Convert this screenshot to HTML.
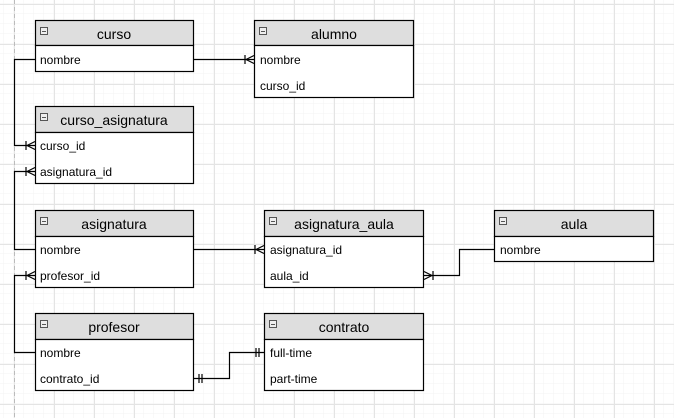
<!DOCTYPE html>
<html><head><style>
html,body{margin:0;padding:0;background:#fff;}
svg{display:block;}
text{font-family:"Liberation Sans",sans-serif;fill:#000;}
.h{font-size:14px;}
.r{font-size:12px;}
</style></head><body>
<svg width="674" height="418" viewBox="0 0 674 418" xmlns="http://www.w3.org/2000/svg">
<defs>
<pattern id="g1" width="10" height="10" patternUnits="userSpaceOnUse" x="4" y="4">
<path d="M10 0V10M0 10H10" stroke="#f3f3f3" stroke-width="1" fill="none"/>
</pattern>
<pattern id="g2" width="40" height="40" patternUnits="userSpaceOnUse" x="14" y="4">
<path d="M0.5 0V40M0 0.5H40" stroke="#e4e4e4" stroke-width="1" fill="none"/>
</pattern>
</defs>
<rect width="674" height="418" fill="url(#g1)"/>
<rect width="674" height="418" fill="url(#g2)"/>
<line x1="14.5" y1="0" x2="14.5" y2="418" stroke="#bbb" stroke-dasharray="4,3"/>

<g stroke="#000" stroke-width="1.2" fill="none">
<!-- curso -> alumno -->
<path d="M194 59.5H254"/><path d="M245 55v9M246 59.5L254 55.5M246 59.5L254 63.5"/>
<!-- curso -> curso_id -->
<path d="M35 59.5H14.5V145.5H35"/><path d="M26 141v9M27 145.5L35 141.5M27 145.5L35 149.5"/>
<!-- asignatura nombre -> asignatura_id -->
<path d="M35 249.5H14.5V171.5H35"/><path d="M26 167v9M27 171.5L35 167.5M27 171.5L35 175.5"/>
<!-- asignatura -> asignatura_aula -->
<path d="M194 249.5H264"/><path d="M255 245v9M256 249.5L264 245.5M256 249.5L264 253.5"/>
<!-- aula -> aula_id -->
<path d="M494 249.5H459.5V275.5H424"/><path d="M433 271v9M432 275.5L424 271.5M432 275.5L424 279.5"/>
<!-- profesor -> profesor_id -->
<path d="M35 352.5H14.5V275.5H35"/><path d="M26 271v9M27 275.5L35 271.5M27 275.5L35 279.5"/>
<!-- contrato -->
<path d="M194 378.5H229.5V352.5H264"/><path d="M199 374v9M202 374v9M256 348v9M259 348v9"/>
</g>

<g stroke="#000" stroke-width="1.2">
<!-- curso -->
<rect x="35.5" y="20.5" width="158" height="25" fill="#dedede"/>
<rect x="35.5" y="45.5" width="158" height="26" fill="#fff"/>
<!-- alumno -->
<rect x="254.5" y="20.5" width="159" height="25" fill="#dedede"/>
<rect x="254.5" y="45.5" width="159" height="52" fill="#fff"/>
<!-- curso_asignatura -->
<rect x="35.5" y="106.5" width="158" height="26" fill="#dedede"/>
<rect x="35.5" y="132.5" width="158" height="51" fill="#fff"/>
<!-- asignatura -->
<rect x="35.5" y="210.5" width="158" height="26" fill="#dedede"/>
<rect x="35.5" y="236.5" width="158" height="51" fill="#fff"/>
<!-- asignatura_aula -->
<rect x="264.5" y="210.5" width="159" height="26" fill="#dedede"/>
<rect x="264.5" y="236.5" width="159" height="51" fill="#fff"/>
<!-- aula -->
<rect x="494.5" y="210.5" width="159" height="26" fill="#dedede"/>
<rect x="494.5" y="236.5" width="159" height="25" fill="#fff"/>
<!-- profesor -->
<rect x="35.5" y="313.5" width="158" height="26" fill="#dedede"/>
<rect x="35.5" y="339.5" width="158" height="51" fill="#fff"/>
<!-- contrato -->
<rect x="264.5" y="313.5" width="159" height="26" fill="#dedede"/>
<rect x="264.5" y="339.5" width="159" height="51" fill="#fff"/>
</g>

<g stroke="#555" stroke-width="1" fill="#eee">
<rect x="40.5" y="27.5" width="7" height="7"/><rect x="259.5" y="27.5" width="7" height="7"/>
<rect x="40.5" y="113.5" width="7" height="7"/><rect x="40.5" y="217.5" width="7" height="7"/>
<rect x="269.5" y="217.5" width="7" height="7"/><rect x="499.5" y="217.5" width="7" height="7"/>
<rect x="40.5" y="320.5" width="7" height="7"/><rect x="269.5" y="320.5" width="7" height="7"/>
</g>
<g stroke="#555" stroke-width="1">
<path d="M42 31.5h4M261 31.5h4M42 117.5h4M42 221.5h4M271 221.5h4M501 221.5h4M42 324.5h4M271 324.5h4"/>
</g>

<g class="h" text-anchor="middle">
<text x="114" y="39">curso</text>
<text x="334" y="39">alumno</text>
<text x="114" y="125">curso_asignatura</text>
<text x="114" y="229">asignatura</text>
<text x="344" y="229">asignatura_aula</text>
<text x="574" y="229">aula</text>
<text x="114" y="332">profesor</text>
<text x="344" y="332">contrato</text>
</g>
<g class="r">
<text x="40" y="64">nombre</text>
<text x="260" y="64">nombre</text>
<text x="260" y="90">curso_id</text>
<text x="40" y="150">curso_id</text>
<text x="40" y="176">asignatura_id</text>
<text x="40" y="254">nombre</text>
<text x="40" y="280">profesor_id</text>
<text x="270" y="254">asignatura_id</text>
<text x="270" y="280">aula_id</text>
<text x="500" y="254">nombre</text>
<text x="40" y="357">nombre</text>
<text x="40" y="383">contrato_id</text>
<text x="270" y="357">full-time</text>
<text x="270" y="383">part-time</text>
</g>
</svg>
</body></html>
